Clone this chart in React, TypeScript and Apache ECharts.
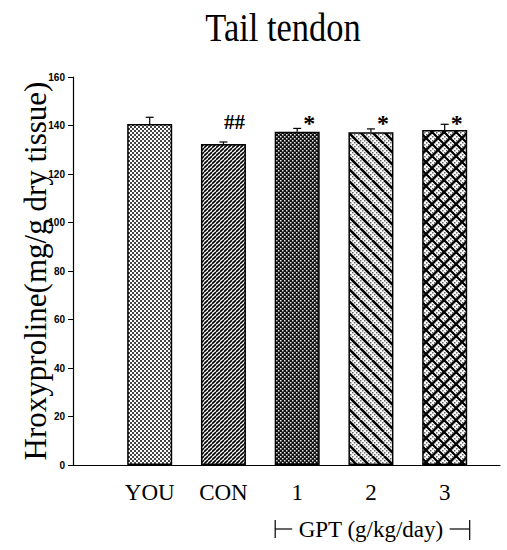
import React, { useEffect, useRef } from "react";
import * as echarts from "echarts";

const categories = ["YOU", "CON", "1", "2", "3"];
const means = [140.6, 132.4, 137.4, 137.2, 138.1];
const errors = [2.8, 0.8, 1.4, 1.4, 2.4];
const marks = ["", "##", "*", "*", "*"];
const yMin = 0;
const yMax = 160;
const yInterval = 20;
const titleText = "Tail tendon";
const yName = "Hroxyproline(mg/g dry tissue)";
const groupLabel = "GPT (g/kg/day)";

function tile(size: number, draw: (ctx: CanvasRenderingContext2D, s: number) => void) {
  const c = document.createElement("canvas");
  c.width = size;
  c.height = size;
  const ctx = c.getContext("2d") as CanvasRenderingContext2D;
  draw(ctx, size);
  return c;
}

function stipple(ctx: CanvasRenderingContext2D, s: number, bg: string, fg: string, d: number) {
  ctx.fillStyle = bg;
  ctx.fillRect(0, 0, s, s);
  ctx.fillStyle = fg;
  for (let y = 0; y < s; y += 4) {
    for (let x = 0; x < s; x += 4) {
      ctx.fillRect(x, y, d, d);
      ctx.fillRect(x + 2, y + 2, d, d);
    }
  }
}

function diag(ctx: CanvasRenderingContext2D, s: number, dir: 1 | -1, w: number) {
  ctx.strokeStyle = "#000";
  ctx.lineWidth = w;
  for (let k = -1; k <= 1; k++) {
    ctx.beginPath();
    if (dir === 1) {
      ctx.moveTo(k * s, 0);
      ctx.lineTo(k * s + s, s);
    } else {
      ctx.moveTo(k * s, s);
      ctx.lineTo(k * s + s, 0);
    }
    ctx.stroke();
  }
}

function makePatterns() {
  const p0 = tile(4, (ctx, s) => stipple(ctx, s, "#fff", "#444", 2));
  const p1 = tile(4, (ctx, s) => {
    ctx.fillStyle = "#fff";
    ctx.fillRect(0, 0, s, s);
    diag(ctx, s, -1, 1.6);
  });
  const p2 = tile(4, (ctx, s) => stipple(ctx, s, "#111", "#e8e8e8", 1.5));
  const p3 = tile(12, (ctx, s) => {
    stipple(ctx, s, "#fff", "#6a6a6a", 1.5);
    diag(ctx, s, 1, 2.6);
  });
  const p4 = tile(12, (ctx, s) => {
    stipple(ctx, s, "#fff", "#6a6a6a", 1.5);
    diag(ctx, s, 1, 2.2);
    diag(ctx, s, -1, 2.2);
  });
  return [p0, p1, p2, p3, p4].map((c) => ({ image: c, repeat: "repeat" }));
}

export default function App() {
  const ref = useRef<HTMLDivElement>(null);
  useEffect(() => {
    document.body.style.margin = "0";
    if (!ref.current) return;
    const chart = echarts.init(ref.current, null, { renderer: "svg" });
    const patterns = makePatterns();
    const barData = means.map((m, i) => ({
      value: [i + 1, m],
      name: categories[i],
      itemStyle: { color: patterns[i] as any },
    }));
    const tops = means.map((m, i) => m + errors[i]);
    const markLevel = Math.max(...tops);
    const serif = "Liberation Serif";

    chart.setOption({
      animation: false,
      backgroundColor: "#fff",
      grid: { left: 73, right: 7, top: 77, bottom: 85, containLabel: false },
      xAxis: {
        type: "value",
        min: -0.04,
        max: 5.75,
        axisLine: { show: true, onZero: false, lineStyle: { color: "#000", width: 1.2 } },
        axisTick: { show: false },
        axisLabel: { show: false },
        splitLine: { show: false },
      },
      yAxis: {
        type: "value",
        min: yMin,
        max: yMax,
        interval: yInterval,
        name: yName,
        nameLocation: "middle",
        nameGap: 22,
        nameMoveOverlap: false,
        nameTextStyle: { fontFamily: serif, fontSize: 31, color: "#000" },
        axisLine: { show: true, onZero: false, lineStyle: { color: "#000", width: 1.2 } },
        axisTick: { show: true, length: 5, lineStyle: { color: "#000" } },
        axisLabel: {
          color: "#000",
          fontSize: 10,
          fontWeight: "bold",
          fontFamily: "Liberation Sans",
          margin: 8,
        },
        splitLine: { show: false },
      },
      series: [
        {
          type: "bar",
          data: barData,
          barWidth: 45,
          itemStyle: { borderColor: "#000", borderWidth: 1.5 },
          label: {
            show: true,
            position: "bottom",
            distance: 16,
            formatter: (p: any) => p.name,
            color: "#000",
            fontFamily: serif,
            fontSize: 23,
          },
        },
        {
          type: "custom",
          data: means.map((m, i) => [i + 1, m, errors[i]]),
          renderItem: (params: any, api: any) => {
            const x = api.value(0);
            const m = api.value(1);
            const e = api.value(2);
            const base = api.coord([x, m]);
            const top = api.coord([x, m + e]);
            return {
              type: "group",
              children: [
                {
                  type: "line",
                  shape: { x1: base[0], y1: base[1], x2: top[0], y2: top[1] },
                  style: { stroke: "#000", lineWidth: 1.2 },
                },
                {
                  type: "line",
                  shape: { x1: top[0] - 4, y1: top[1], x2: top[0] + 4, y2: top[1] },
                  style: { stroke: "#000", lineWidth: 1.2 },
                },
              ],
            };
          },
          z: 5,
        },
        {
          type: "custom",
          data: marks.map((t, i) => [i + 1, markLevel]),
          renderItem: (params: any, api: any) => {
            const i = params.dataIndex;
            const t = marks[i];
            if (!t) return null;
            const p = api.coord([api.value(0), api.value(1)]);
            const isStar = t === "*";
            return {
              type: "text",
              x: p[0] + (isStar ? 12 : 11),
              y: p[1] + (isStar ? 6 : 5),
              style: {
                text: t,
                fill: "#000",
                font: isStar ? `bold 24px ${serif}` : `bold 21px ${serif}`,
                textAlign: "center",
                textVerticalAlign: "middle",
              },
            };
          },
          z: 6,
        },
      ],
    });

    const px = (v: number) => chart.convertToPixel({ xAxisIndex: 0 }, v) as number;
    const y0 = chart.convertToPixel({ yAxisIndex: 0 }, 0) as number;
    const left = px(3) - 22;
    const right = px(5) + 25;
    const mid = px(4);
    const by = y0 + 64;
    const ls = { stroke: "#000", lineWidth: 1.2 };
    chart.setOption({
      graphic: [
        {
          type: "text",
          x: 283,
          y: 27,
          scaleX: 0.84,
          style: {
            text: titleText,
            font: `41px ${serif}`,
            fill: "#000",
            textAlign: "center",
            textVerticalAlign: "middle",
          },
        },
        {
          type: "text",
          x: mid,
          y: by,
          style: {
            text: groupLabel,
            font: `23px ${serif}`,
            fill: "#000",
            textAlign: "center",
            textVerticalAlign: "middle",
          },
        },
        { type: "line", shape: { x1: left, y1: by - 9, x2: left, y2: by + 9 }, style: ls },
        { type: "line", shape: { x1: left, y1: by, x2: left + 17, y2: by }, style: ls },
        { type: "line", shape: { x1: right - 20, y1: by, x2: right, y2: by }, style: ls },
        { type: "line", shape: { x1: right, y1: by - 9, x2: right, y2: by + 11 }, style: ls },
      ],
    });

    return () => chart.dispose();
  }, []);
  return <div ref={ref} style={{ width: 507, height: 550 }} />;
}
